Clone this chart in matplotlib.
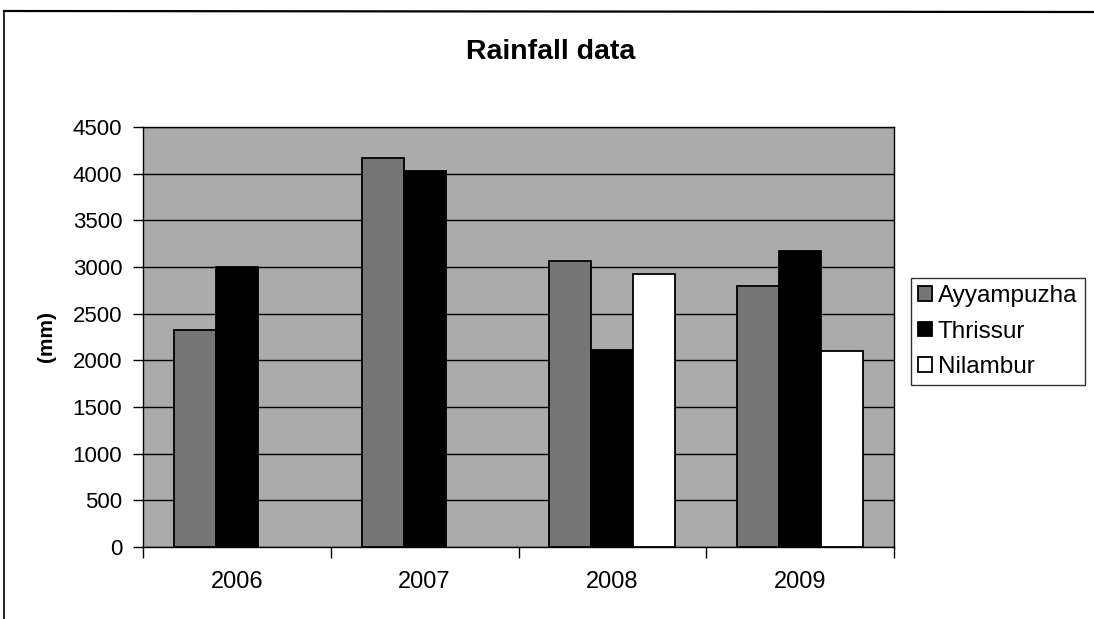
import matplotlib
matplotlib.use("Agg")
import matplotlib.pyplot as plt
from matplotlib.lines import Line2D
import numpy as np

years = ["2006", "2007", "2008", "2009"]
series_names = ["Ayyampuzha", "Thrissur", "Nilambur"]
ayyampuzha = [2330, 4170, 3060, 2800]
thrissur = [3000, 4030, 2110, 3170]
nilambur = [np.nan, np.nan, 2920, 2100]
yticks = [0, 500, 1000, 1500, 2000, 2500, 3000, 3500, 4000, 4500]

plt.rcParams['font.family'] = ['Liberation Sans', 'DejaVu Sans']

fig = plt.figure(figsize=(10.94, 6.19), dpi=100)
ax = fig.add_axes([143/1094, 1-547/619, (894-143)/1094, (547-127)/619])
ax.set_facecolor('#ababab')

x = np.arange(len(years))
w = 0.224
colors = ['#767676', '#000000', '#ffffff']
data = [ayyampuzha, thrissur, nilambur]
for i, (name, vals, c) in enumerate(zip(series_names, data, colors)):
    ax.bar(x + (i - 1) * w, vals, width=w, color=c, edgecolor='black',
           linewidth=1.3, label=name, zorder=3)

ax.set_ylim(0, 4500)
ax.set_xlim(-0.5, len(years) - 0.5)
ax.set_yticks(yticks)
ax.set_yticklabels([str(t) for t in yticks], fontsize=16)
ax.yaxis.grid(True, color='black', linewidth=1.0, zorder=1)
ax.set_axisbelow(True)

ax.set_xticks(np.arange(len(years) + 1) - 0.5)
ax.set_xticklabels([])
ax.set_xticks(x, minor=True)
ax.set_xticklabels(years, minor=True, fontsize=17)
ax.tick_params(axis='x', which='major', length=8, width=1, direction='out')
ax.tick_params(axis='x', which='minor', length=0, pad=17)
ax.tick_params(axis='y', length=7, width=1, direction='out', pad=8)

for s in ax.spines.values():
    s.set_color('black')
    s.set_linewidth(1.0)

ax.set_ylabel('(mm)', fontsize=15, fontweight='bold', labelpad=12)
fig.text(551/1094, 1-52/619, 'Rainfall data', ha='center', va='center',
         fontsize=20.5, fontweight='bold')

leg = fig.legend(loc='upper left', bbox_to_anchor=(911/1094, 1-278/619),
                 fontsize=17.5, frameon=True, fancybox=False, edgecolor='black',
                 handlelength=0.55, handleheight=0.55, handletextpad=0.25,
                 borderpad=0.3, labelspacing=0.55, borderaxespad=0)
leg.get_frame().set_linewidth(1.0)

fig.add_artist(Line2D([4/1094, 1], [1-11/619, 1-12/619], color='black',
                      linewidth=1.6, transform=fig.transFigure))
fig.add_artist(Line2D([4/1094, 4/1094], [1-11/619, 0], color='black',
                      linewidth=1.2, transform=fig.transFigure))

fig.savefig('out.png', dpi=100)
